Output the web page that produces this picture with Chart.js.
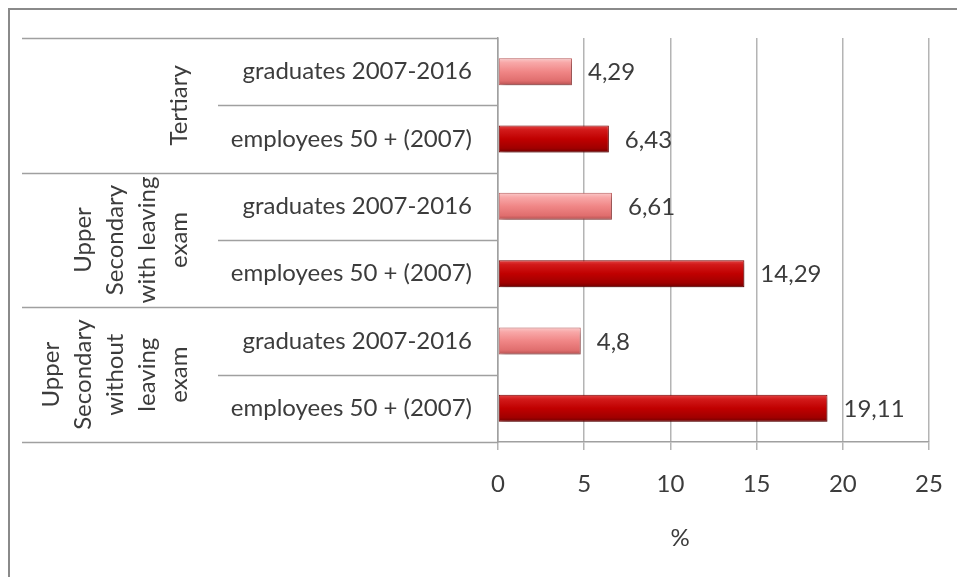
<!DOCTYPE html>
<html>
<head>
<meta charset="utf-8">
<script src="https://cdn.jsdelivr.net/npm/chart.js@4.4.1/dist/chart.umd.min.js"></script>
<style>
  html, body { margin: 0; padding: 0; background: #ffffff; }
  #wrap { width: 957px; height: 577px; }
</style>
</head>
<body>
<div id="wrap"><canvas id="chart" width="957" height="577"></canvas></div>
<script>
// Education level groups (each line of a rotated label is one entry)
const groups = [
  ['Tertiary'],
  ['Upper', 'Secondary', 'with leaving', 'exam'],
  ['Upper', 'Secondary', 'without', 'leaving', 'exam']
];
// Row labels inside each group
const rowLabels = ['graduates 2007-2016', 'employees 50 + (2007)'];
// Shares in %, one value per group
const graduates = [4.29, 6.61, 4.8];
const employees = [6.43, 14.29, 19.11];
// Value axis ticks
const xTicks = [0, 5, 10, 15, 20, 25];
const axisTitle = '%';

const FONT = 'Lato, "Open Sans", sans-serif';
const FONT_SIZE = 24;
const TEXT = '#3c3c3c';

// Flatten groups into chart rows (graduates first, employees second)
const labels = [];
const values = [];
const series = [];
groups.forEach((g, i) => {
  labels.push(rowLabels[0]); values.push(graduates[i]); series.push(0);
  labels.push(rowLabels[1]); values.push(employees[i]); series.push(1);
});

// Cylinder-like shading for each series
const shades = [
  { stops: [[0, '#fbcaca'], [0.16, '#f8a8a8'], [0.5, '#f08686'], [0.84, '#e06e6e'], [1, '#b45050']], border: '#c06060' },
  { stops: [[0, '#e24444'], [0.16, '#d21a1a'], [0.5, '#c00000'], [0.84, '#a00000'], [1, '#700000']], border: '#7a0000' }
];
const flatColors = ['#f08686', '#c00000'];

function barFill(ctx) {
  const chart = ctx.chart;
  const s = series[ctx.dataIndex];
  if (!chart.chartArea || !chart.scales.y) return flatColors[s];
  const yScale = chart.scales.y;
  const yc = yScale.getPixelForValue(ctx.dataIndex);
  const h = (yScale.height / labels.length) * 0.4;
  const g = chart.ctx.createLinearGradient(0, yc - h / 2, 0, yc + h / 2);
  shades[s].stops.forEach(([o, c]) => g.addColorStop(o, c));
  return g;
}

// Frame, left-hand category table, group labels and axis title
const tablePlugin = {
  id: 'categoryTable',
  beforeDraw(chart) {
    const c = chart.ctx;
    c.save();
    c.fillStyle = '#ffffff';
    c.fillRect(0, 0, chart.width, chart.height);
    c.strokeStyle = '#8a8a8a';
    c.lineWidth = 2;
    c.strokeRect(9, 9, chart.width + 20, chart.height + 20);
    c.restore();
  },
  afterDraw(chart) {
    const c = chart.ctx;
    const area = chart.chartArea;
    const y = chart.scales.y;
    const n = labels.length;
    const bound = (k) => {
      if (k <= 0) return area.top;
      if (k >= n) return area.bottom;
      return (y.getPixelForValue(k - 1) + y.getPixelForValue(k)) / 2;
    };
    c.save();
    c.strokeStyle = '#a0a0a0';
    c.lineWidth = 1.5;
    for (let k = 0; k <= n; k++) {
      const yy = Math.round(bound(k)) + 0.5;
      const x0 = (k % 2 === 0) ? 22 : 218;
      c.beginPath();
      c.moveTo(x0, yy);
      c.lineTo(area.left, yy);
      c.stroke();
    }
    c.fillStyle = TEXT;
    c.font = `${FONT_SIZE}px ${FONT}`;
    c.textAlign = 'center';
    c.textBaseline = 'middle';
    const lineGap = 32;
    groups.forEach((lines, i) => {
      const yc = (bound(i * 2) + bound(i * 2 + 2)) / 2;
      c.save();
      c.translate(179, yc);
      c.rotate(-Math.PI / 2);
      lines.forEach((t, j) => {
        c.fillText(t, 0, -(lines.length - 1 - j) * lineGap);
      });
      c.restore();
    });
    // value axis title
    c.fillText(axisTitle, 680, 538);
    c.restore();
  }
};

// Drop shadow under the bars and value labels at the bar ends
const barDecor = {
  id: 'barDecor',
  beforeDatasetsDraw(chart) {
    const c = chart.ctx;
    c.save();
    c.shadowColor = 'rgba(0,0,0,0.35)';
    c.shadowBlur = 5;
    c.shadowOffsetX = 2;
    c.shadowOffsetY = 3;
  },
  afterDatasetsDraw(chart) {
    const c = chart.ctx;
    c.restore();
    const meta = chart.getDatasetMeta(0);
    c.save();
    c.fillStyle = TEXT;
    c.font = `${FONT_SIZE}px ${FONT}`;
    c.textAlign = 'left';
    c.textBaseline = 'middle';
    meta.data.forEach((bar, i) => {
      const txt = String(values[i]).replace('.', ',');
      c.fillText(txt, bar.x + 16, bar.y + 1);
    });
    c.restore();
  }
};

new Chart(document.getElementById('chart'), {
  type: 'bar',
  data: {
    labels: labels,
    datasets: [{
      data: values,
      backgroundColor: barFill,
      borderColor: (ctx) => shades[series[ctx.dataIndex]].border,
      borderWidth: 1,
      borderSkipped: false,
      categoryPercentage: 1.0,
      barPercentage: 0.4
    }]
  },
  options: {
    indexAxis: 'y',
    responsive: false,
    animation: false,
    devicePixelRatio: 1,
    layout: { padding: { top: 38, right: 28, left: 0, bottom: 0 } },
    plugins: {
      legend: { display: false },
      tooltip: { enabled: false }
    },
    scales: {
      x: {
        min: xTicks[0],
        max: xTicks[xTicks.length - 1],
        ticks: {
          stepSize: xTicks[1] - xTicks[0],
          color: TEXT,
          font: { family: FONT, size: FONT_SIZE },
          padding: 20
        },
        grid: { color: '#b4b4b4', lineWidth: 1.5, tickLength: 8, drawTicks: true },
        border: { display: true, color: '#a0a0a0', width: 1.5 },
        afterFit(scale) {
          scale.height = 135;
          scale.paddingLeft = 0;
          scale.paddingRight = 0;
        }
      },
      y: {
        ticks: {
          color: TEXT,
          font: { family: FONT, size: FONT_SIZE },
          padding: 18
        },
        grid: { display: false },
        border: { display: true, color: '#a0a0a0', width: 1.5 },
        afterFit(scale) { scale.width = 498; }
      }
    }
  },
  plugins: [tablePlugin, barDecor]
});
</script>
</body>
</html>
